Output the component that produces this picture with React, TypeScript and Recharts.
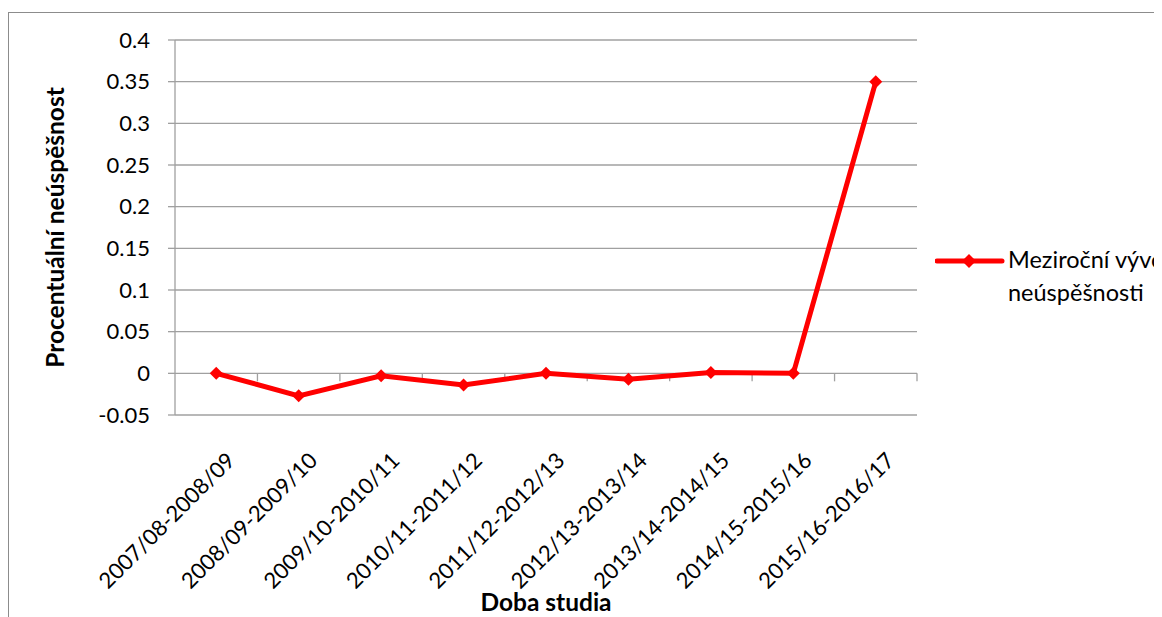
import React from 'react';
import {
  LineChart,
  Line,
  XAxis,
  YAxis,
  CartesianGrid,
  Legend,
  ReferenceLine,
} from 'recharts';

const categories = [
  '2007/08-2008/09',
  '2008/09-2009/10',
  '2009/10-2010/11',
  '2010/11-2011/12',
  '2011/12-2012/13',
  '2012/13-2013/14',
  '2013/14-2014/15',
  '2014/15-2015/16',
  '2015/16-2016/17',
];
const failureChange = [0, -0.027, -0.003, -0.014, 0, -0.007, 0.001, 0, 0.35];
const yTicks = [-0.05, 0, 0.05, 0.1, 0.15, 0.2, 0.25, 0.3, 0.35, 0.4];

const seriesName = 'Meziroční vývoj neúspěšnosti';
const RED = '#ff0000';
const GRID = '#a0a0a0';
const FONT = 'Lato, "Open Sans", sans-serif';

// x positions sit in the middle of each category slot
const data = categories.map((c, i) => ({ x: i + 0.5, name: c, value: failureChange[i] }));
const xTicks = data.map((d) => d.x);
const boundaries = categories.map((_, i) => i + 1);
const TICK_LEN = 0.0096; // ~8px below the zero line

const Diamond = (props: any) => {
  const { cx, cy, index } = props;
  if (cx == null || cy == null) return null;
  const r = 6.5;
  return (
    <polygon
      key={`d-${index}`}
      points={`${cx},${cy - r} ${cx + r},${cy} ${cx},${cy + r} ${cx - r},${cy}`}
      fill={RED}
    />
  );
};

const CategoryTick = (props: any) => {
  const { x, y, payload } = props;
  const label = categories[Math.round(payload.value - 0.5)];
  return (
    <g transform={`translate(${x + 20},${y + 47})`}>
      <text
        x={0}
        y={0}
        textAnchor="end"
        transform="rotate(-45)"
        fill="#000"
        fontSize={22}
        fontFamily={FONT}
      >
        {label}
      </text>
    </g>
  );
};

const LegendBox = () => (
  <div style={{ display: 'flex', alignItems: 'flex-start', fontFamily: FONT }}>
    <svg width={73} height={20} style={{ marginTop: 8, flex: 'none' }}>
      <line x1={2} y1={10} x2={67} y2={10} stroke={RED} strokeWidth={5} strokeLinecap="round" />
      <polygon points="34,3 41,10 34,17 27,10" fill={RED} />
    </svg>
    <div style={{ width: 200, fontSize: 23.5, lineHeight: '33px', color: '#000' }}>{seriesName}</div>
  </div>
);

export default function App() {
  return (
    <div
      style={{
        position: 'relative',
        top: 4,
        width: 1151,
        height: 618,
        border: '1px solid #8c8c8c',
        overflow: 'hidden',
        background: '#fff',
      }}
    >
      <LineChart
        width={1151}
        height={610}
        data={data}
        margin={{ top: 27, right: 243, left: 0, bottom: 0 }}
      >
        <CartesianGrid vertical={false} stroke={GRID} strokeWidth={1.3} />
        <XAxis
          type="number"
          dataKey="x"
          domain={[0, categories.length]}
          ticks={xTicks}
          interval={0}
          axisLine={false}
          tickLine={false}
          tickSize={0}
          tickMargin={0}
          height={208}
          tick={<CategoryTick />}
          label={{
            value: 'Doba studia',
            position: 'insideBottom',
            offset: 12,
            fill: '#000',
            fontSize: 24.5,
            fontWeight: 700,
            fontFamily: FONT,
          }}
        />
        <YAxis
          domain={[-0.05, 0.4]}
          ticks={yTicks}
          interval={0}
          width={166}
          tickSize={7}
          tickMargin={18}
          axisLine={{ stroke: GRID, strokeWidth: 1.3 }}
          tickLine={{ stroke: GRID, strokeWidth: 1.3 }}
          tick={{ fill: '#000', fontSize: 22, fontFamily: FONT }}
          label={{
            value: 'Procentuální neúspěšnost',
            angle: -90,
            position: 'insideLeft',
            offset: 46,
            fill: '#000',
            fontSize: 24.5,
            fontWeight: 700,
            fontFamily: FONT,
            style: { textAnchor: 'middle' },
          }}
        />
        {boundaries.map((b) => (
          <ReferenceLine
            key={b}
            segment={[
              { x: b, y: 0 },
              { x: b, y: -TICK_LEN },
            ]}
            stroke={GRID}
            strokeWidth={1.3}
          />
        ))}
        <Legend
          layout="horizontal"
          align="center"
          verticalAlign="middle"
          wrapperStyle={{ left: 926, top: 230, width: 300 }}
          content={<LegendBox />}
        />
        <Line
          type="linear"
          dataKey="value"
          name={seriesName}
          stroke={RED}
          strokeWidth={5}
          dot={Diamond}
          activeDot={false}
          isAnimationActive={false}
        />
      </LineChart>
    </div>
  );
}
